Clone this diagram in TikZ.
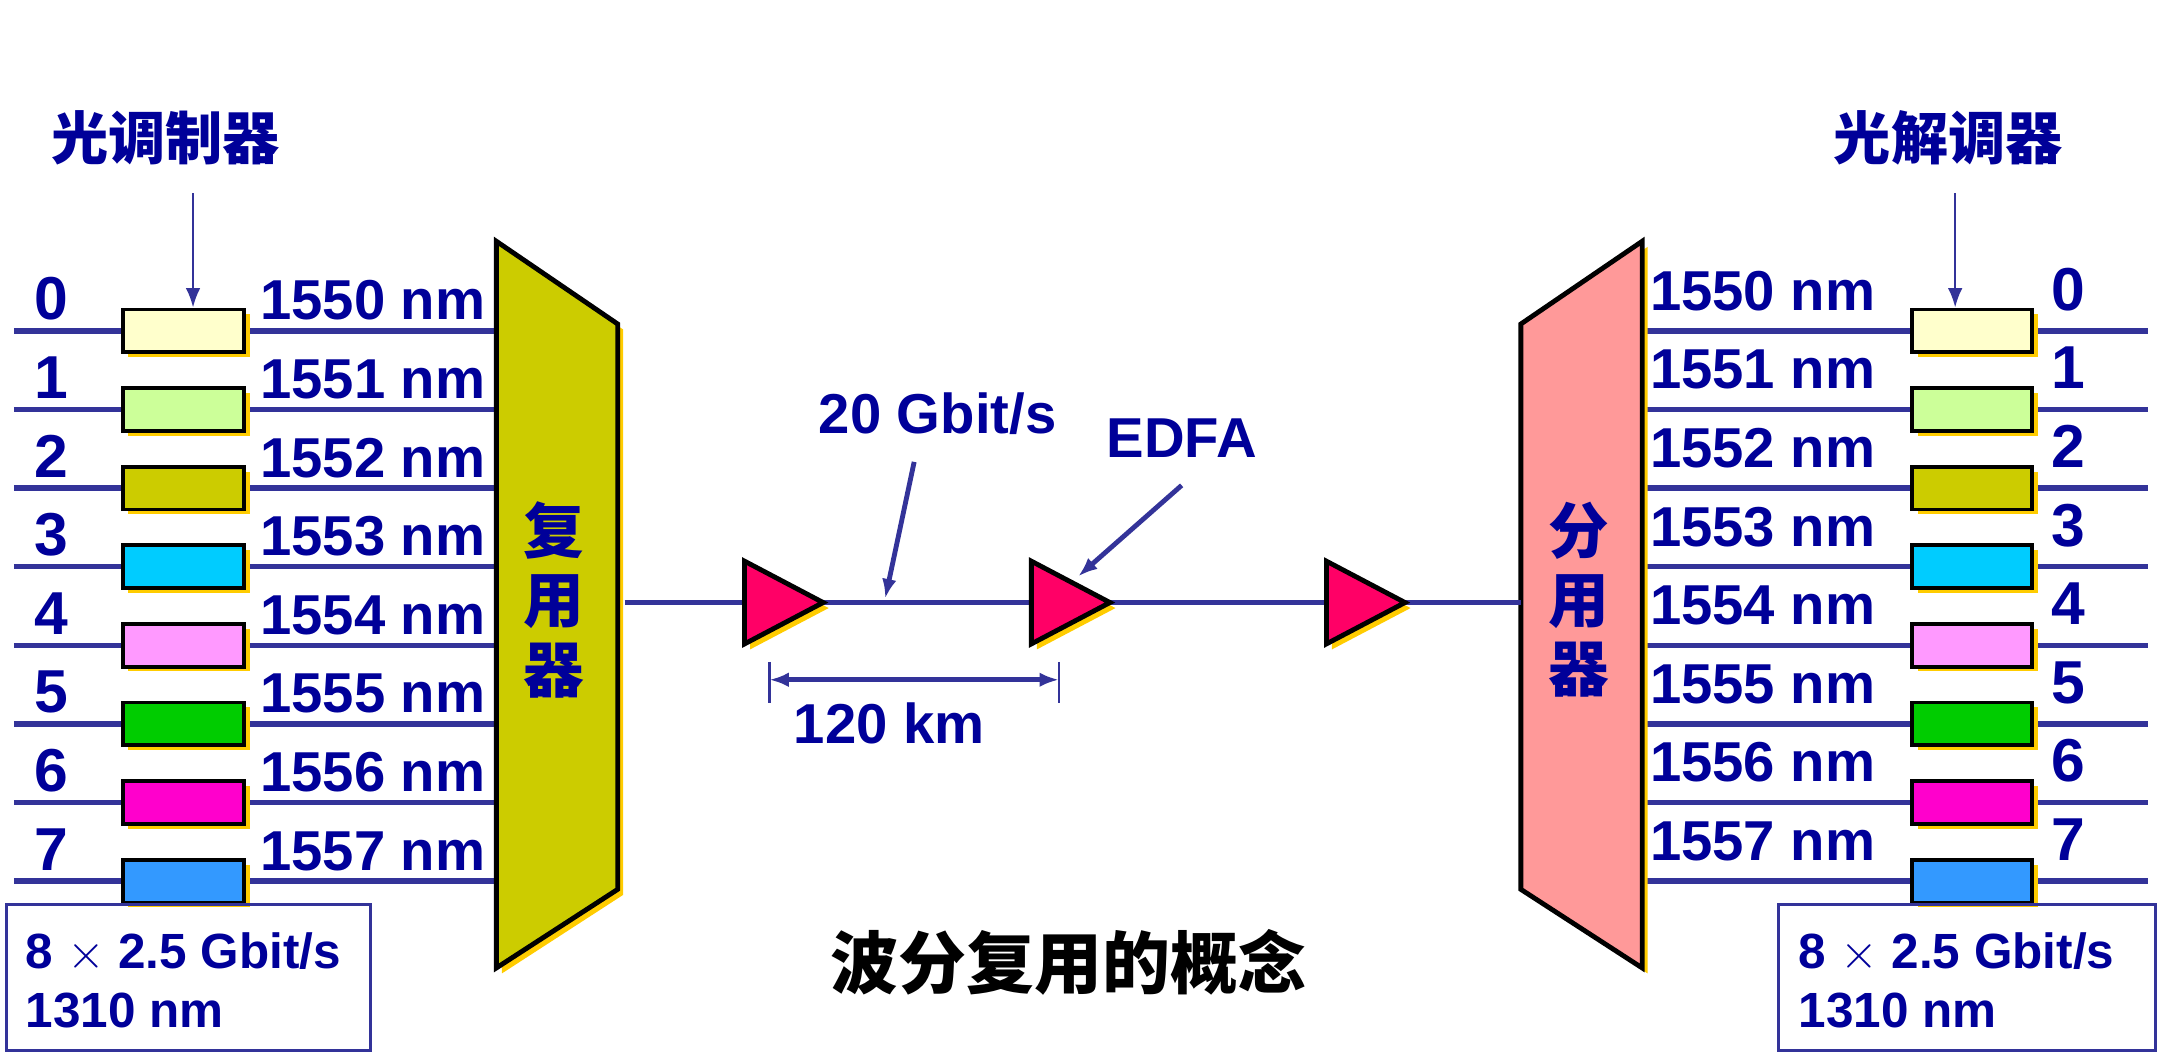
\documentclass[tikz,border=0pt]{standalone}
\usepackage{fontspec}
\usetikzlibrary{arrows.meta}
\setmainfont{Liberation Sans}
\newfontfamily\cjk{Noto Sans CJK SC}
\begin{document}
\begin{tikzpicture}[x=0.01cm,y=-0.01cm,
  txt/.style={text=navy,font=\bfseries\fontsize{11.6}{13}\selectfont,inner sep=0},
  cj/.style={text=navy,font=\cjk\bfseries\fontsize{11.8}{13}\selectfont,inner sep=0},
  fib/.style={draw=fibre,line width=1.1pt},
  arr/.style={draw=fibre,line width=0.5pt,-{Latex[length=4pt,width=3pt]}}]
\definecolor{navy}{HTML}{000099}
\definecolor{fibre}{HTML}{333399}
\definecolor{shad}{HTML}{FFCC00}
\definecolor{muxc}{HTML}{CCCC00}
\definecolor{demuxc}{HTML}{FF9999}
\definecolor{ampc}{HTML}{FF0066}
\useasboundingbox (0,0) rectangle (1568,770);
% lines
\foreach \i/\c in {0/FFFFCC,1/CCFF99,2/CCCC00,3/00CCFF,4/FF99FF,5/00CC00,6/FF00CC,7/3399FF}{
  \pgfmathsetmacro\yy{240+57*\i}
  \draw[fib] (10,\yy) -- (358,\yy);
  \draw[fib] (1191,\yy) -- (1558,\yy);
  \definecolor{bc}{HTML}{\c}
  \fill[shad] (93,\yy-12) rectangle (181,\yy+19);
  \node[draw=black,line width=0.8pt,fill=bc,minimum width=0.88cm,minimum height=0.31cm,inner sep=0,anchor=center] (l\i) at (133,\yy) {};
  \fill[shad] (1391,\yy-12) rectangle (1478,\yy+19);
  \node[draw=black,line width=0.8pt,fill=bc,minimum width=0.87cm,minimum height=0.31cm,inner sep=0] (r\i) at (1430,\yy) {};
  \node[txt,anchor=base west,font=\bfseries\fontsize{12.5}{13}\selectfont] (ln\i) at (24,\yy-8) {\i};
  \node[txt,anchor=base west] (lw\i) at (188,\yy-8) {155\i{} nm};
  \node[txt,anchor=base west] (rw\i) at (1196,\yy-15) {155\i{} nm};
  \node[txt,anchor=base west,font=\bfseries\fontsize{12.5}{13}\selectfont] (rn\i) at (1487,\yy-15) {\i};
}
% mux
\fill[shad] (364,179) -- (452,239) -- (452,649) -- (364,706) -- cycle;
\draw[line width=1pt,fill=muxc] (360,175) -- (448,235) -- (448,645) -- (360,702) -- cycle;
\node[cj,font=\cjk\bfseries\fontsize{12.5}{14.3}\selectfont,align=center] (mux) at (402,435) {复\\用\\器};
\fill[shad] (1107,239) -- (1195,179) -- (1195,706) -- (1107,649) -- cycle;
\draw[line width=1pt,fill=demuxc] (1103,235) -- (1191,175) -- (1191,702) -- (1103,645) -- cycle;
\node[cj,font=\cjk\bfseries\fontsize{12.5}{14.3}\selectfont,align=center] (demux) at (1145,435) {分\\用\\器};
% trunk
\coordinate (ms) at (453,437); \coordinate (ds) at (1103,437);
\draw[fib,line width=0.9pt] (ms) -- (ds);
\foreach \n/\x in {a1/540,a2/748,a3/962}{
  \fill[shad] (\x+4,411) -- (\x+4,471) -- (\x+61,441) -- cycle;
  \draw[line width=1pt,fill=ampc] (\x,407) -- (\x,467) -- (\x+57,437) -- cycle;
  \coordinate (\n) at (\x,437);
}
\node[txt] (rate) at (680,300) {20 Gbit/s};
\coordinate (rt) at (663,335); \coordinate (rh) at (642,434);
\draw[arr,line width=1pt] (rt) -- (rh);
\node[txt] (edfa) at (857,318) {EDFA};
\coordinate (et) at (857,352); \coordinate (eh) at (782,418);
\draw[arr,line width=1pt] (et) -- (eh);
\coordinate (d1) at (558,493); \coordinate (d2) at (768,493);
\draw[fibre,line width=0.5pt] (558,480) -- (558,510) (768,480) -- (768,510);
\draw[fibre,line width=1pt,{Latex[length=4pt,width=3pt]}-{Latex[length=4pt,width=3pt]}] (d1) -- (d2);
\node[txt] (km) at (645,525) {120 km};
\node[cj,text=black,font=\cjk\bfseries\fontsize{14}{15}\selectfont] (title) at (775,698) {波分复用的概念};
% boxes
\draw[fibre,line width=0.6pt] (5,656) rectangle (269,762);
\node[txt,anchor=west,align=left,font=\bfseries\fontsize{10.2}{12}\selectfont] (lb) at (18,711) {8 $\times$ 2.5 Gbit/s\\1310 nm};
\draw[fibre,line width=0.6pt] (1290,656) rectangle (1563,762);
\node[txt,anchor=west,align=left,font=\bfseries\fontsize{10.2}{12}\selectfont] (rb) at (1304,711) {8 $\times$ 2.5 Gbit/s\\1310 nm};
% labels
\node[cj] (mod) at (120,100) {光调制器};
\node[cj] (dem) at (1413,100) {光解调器};
\draw[arr] (140,140) -- (l0.north -| 140,0);
\draw[arr] (1418,140) -- (r0.north -| 1418,0);
\end{tikzpicture}
\end{document}
